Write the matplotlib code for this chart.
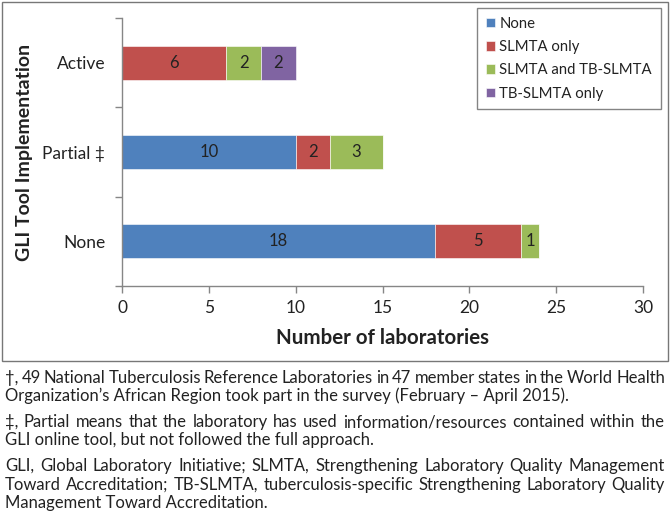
import numpy as np
import matplotlib
matplotlib.use("Agg")
import matplotlib.pyplot as plt
from matplotlib.patches import Rectangle

plt.rcParams['font.family'] = ['Lato', 'DejaVu Sans']

categories = ['None', 'Partial ‡', 'Active']
val_none = [18, 10, 0]
val_slmta = [5, 2, 6]
val_both = [1, 3, 2]
val_tb = [0, 0, 2]

series_names = ['None', 'SLMTA only', 'SLMTA and TB-SLMTA', 'TB-SLMTA only']
kolory = ['#4F81BD', '#C0504D', '#9BBB59', '#8064A2']

x_ticks = [0, 5, 10, 15, 20, 25, 30]

footnotes = [
    ["†, 49 National Tuberculosis Reference Laboratories in 47 member states in the World Health",
     "Organization’s African Region took part in the survey (February – April 2015)."],
    ["‡, Partial means that the laboratory has used information/resources contained within the",
     "GLI online tool, but not followed the full approach."],
    ["GLI, Global Laboratory Initiative; SLMTA, Strengthening Laboratory Quality Management",
     "Toward Accreditation; TB-SLMTA, tuberculosis-specific Strengthening Laboratory Quality",
     "Management Toward Accreditation."],
]

W, H = 670, 521
fig = plt.figure(figsize=(W / 100, H / 100), dpi=100)
ax = fig.add_axes([122 / W, 1 - 286 / H, (643 - 122) / W, (286 - 18) / H])

y = np.arange(len(categories))
left = np.zeros(len(categories))
tekst_kolor = '#222222'
for name, vals, c in zip(series_names, [val_none, val_slmta, val_both, val_tb], kolory):
    vals = np.array(vals, dtype=float)
    ax.barh(y, vals, left=left, height=0.38, color=c, label=name,
            edgecolor='white', linewidth=0.4)
    for yi, l, v in zip(y, left, vals):
        if v > 0:
            ax.text(l + v / 2, yi, '%d' % v, ha='center', va='center',
                    fontsize=12, color=tekst_kolor)
    left += vals

ax.set_xlim(0, 30)
ax.set_ylim(-0.5, 2.5)
ax.set_xticks(x_ticks)
ax.set_yticks(y)
ax.set_yticklabels(categories)
ax.set_yticks([-0.5, 0.5, 1.5, 2.5], minor=True)
ax.tick_params(axis='y', which='major', length=0, pad=12, labelsize=12.5, labelcolor=tekst_kolor)
ax.tick_params(axis='y', which='minor', length=5, color='#868686', width=1)
ax.tick_params(axis='x', length=5, color='#868686', width=1, labelsize=12.5,
               labelcolor=tekst_kolor, pad=5)
for s in ['top', 'right']:
    ax.spines[s].set_visible(False)
for s in ['left', 'bottom']:
    ax.spines[s].set_color('#868686')
    ax.spines[s].set_linewidth(1)

fig.text(383 / W, 1 - 338 / H, 'Number of laboratories', ha='center', va='center',
         fontsize=14.8, fontweight='bold', color=tekst_kolor)
fig.text(25 / W, 1 - 152 / H, 'GLI Tool Implementation', ha='center', va='center',
         rotation=90, fontsize=14, fontweight='bold', color=tekst_kolor)

leg = ax.legend(loc='upper right', bbox_to_anchor=(661 / W, 1 - 8 / H),
                bbox_transform=fig.transFigure, borderaxespad=0, fontsize=10.7, frameon=True,
                fancybox=False, handlelength=0.6, handleheight=0.6,
                handletextpad=0.3, labelspacing=0.62, borderpad=0.6)
leg.get_frame().set_edgecolor('#666666')
leg.get_frame().set_linewidth(1)
for t in leg.get_texts():
    t.set_color(tekst_kolor)

# ramka
fig.patches.append(Rectangle((2 / W, 1 - 361 / H), 666 / W, 359 / H, transform=fig.transFigure,
                             fill=False, edgecolor='#777777', linewidth=1))

# przypisy, wyjustowane
renderer = fig.canvas.get_renderer()
x0, x1 = 5, 665
ys = [[378, 396], [422, 440], [466, 485, 503]]
fs = 12


def linia(txt, ypix, justify):
    if not justify:
        fig.text(x0 / W, 1 - ypix / H, txt, ha='left', va='center', fontsize=fs, color=tekst_kolor)
        return
    words = txt.split(' ')
    arts = [fig.text(0, 1 - ypix / H, w_, ha='left', va='center', fontsize=fs, color=tekst_kolor)
            for w_ in words]
    widths = [a.get_window_extent(renderer).width for a in arts]
    gap = (x1 - x0 - sum(widths)) / (len(words) - 1)
    x = x0
    for a, w_ in zip(arts, widths):
        a.set_x(x / W)
        x += w_ + gap


for para, yp in zip(footnotes, ys):
    for i, (txt, yy) in enumerate(zip(para, yp)):
        linia(txt, yy, i < len(para) - 1)

fig.savefig('out.png', dpi=100)
